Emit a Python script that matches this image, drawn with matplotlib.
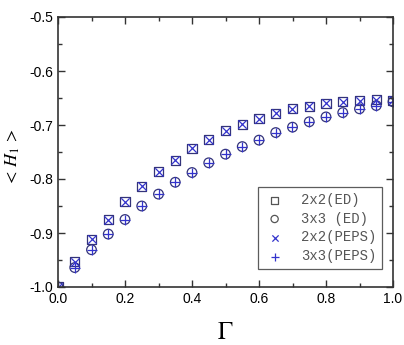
import matplotlib
matplotlib.use("Agg")
import matplotlib.pyplot as plt
from matplotlib.ticker import MultipleLocator

plt.rcParams['font.family'] = 'Liberation Sans'
plt.rcParams['mathtext.fontset'] = 'stix'
plt.rcParams['axes.unicode_minus'] = False

gamma = [0.0, 0.05, 0.10, 0.15, 0.20, 0.25, 0.30, 0.35, 0.40, 0.45, 0.50,
         0.55, 0.60, 0.65, 0.70, 0.75, 0.80, 0.85, 0.90, 0.95, 1.00]

h_2x2 = [-1.000, -0.953, -0.912, -0.875, -0.842, -0.813, -0.787, -0.765, -0.743,
         -0.727, -0.711, -0.699, -0.688, -0.678, -0.670, -0.665, -0.660, -0.657,
         -0.655, -0.653, -0.654]
h_3x3 = [-1.000, -0.964, -0.931, -0.902, -0.875, -0.850, -0.828, -0.806, -0.788,
         -0.770, -0.754, -0.740, -0.728, -0.714, -0.704, -0.694, -0.685, -0.677,
         -0.670, -0.664, -0.657]

fig = plt.figure(figsize=(4.04, 3.45), dpi=100)
ax = fig.add_axes([58 / 404, 1 - 287 / 345, 335 / 404, 270 / 345])

ax.scatter(gamma, h_2x2, marker='s', s=42, facecolors='none', edgecolors='#33337a', linewidths=0.9, label="2x2(ED)")
ax.scatter(gamma, h_3x3, marker='o', s=48, facecolors='none', edgecolors='#33337a', linewidths=0.9, label="3x3 (ED)")
ax.scatter(gamma, h_2x2, marker='x', s=36, c='#3333cc', linewidths=0.9, label="2x2(PEPS)")
ax.scatter(gamma, h_3x3, marker='+', s=56, c='#3333cc', linewidths=0.9, label="3x3(PEPS)")

ax.set_xlim(0, 1.0)
ax.set_ylim(-1.0, -0.5)
ax.xaxis.set_major_locator(MultipleLocator(0.2))
ax.xaxis.set_minor_locator(MultipleLocator(0.1))
ax.yaxis.set_major_locator(MultipleLocator(0.1))
ax.yaxis.set_minor_locator(MultipleLocator(0.05))
ax.xaxis.set_major_formatter(lambda v, p: "%.1f" % v)
ax.tick_params(which='both', direction='in', top=True, right=True, width=1.0, color='#333333')
ax.tick_params(which='major', length=5, labelsize=10)
ax.tick_params(which='minor', length=3)
for sp in ax.spines.values():
    sp.set_linewidth(1.2)
    sp.set_color('#333333')

ax.set_xlabel(r"$\Gamma$", fontsize=18)
ax.xaxis.set_label_coords(0.5, -0.122)
ax.set_ylabel(r"$<\,H_1\,>$", fontsize=13)
ax.yaxis.set_label_coords(-0.108, 0.48)

leg = ax.legend(loc='lower right', bbox_to_anchor=(0.967, 0.067), borderaxespad=0,
                prop={'family': 'Liberation Mono', 'size': 10},
                frameon=True, fancybox=False, edgecolor='#333333', handletextpad=1.1, borderpad=0.4,
                labelspacing=0.35, handlelength=1.6, markerscale=0.75)
leg.get_frame().set_linewidth(0.9)
for t in leg.get_texts():
    t.set_color('#555555')
leg.legend_handles[0].set_edgecolor('#555555')
leg.legend_handles[1].set_edgecolor('#555555')

plt.savefig('out.png', dpi=100)
